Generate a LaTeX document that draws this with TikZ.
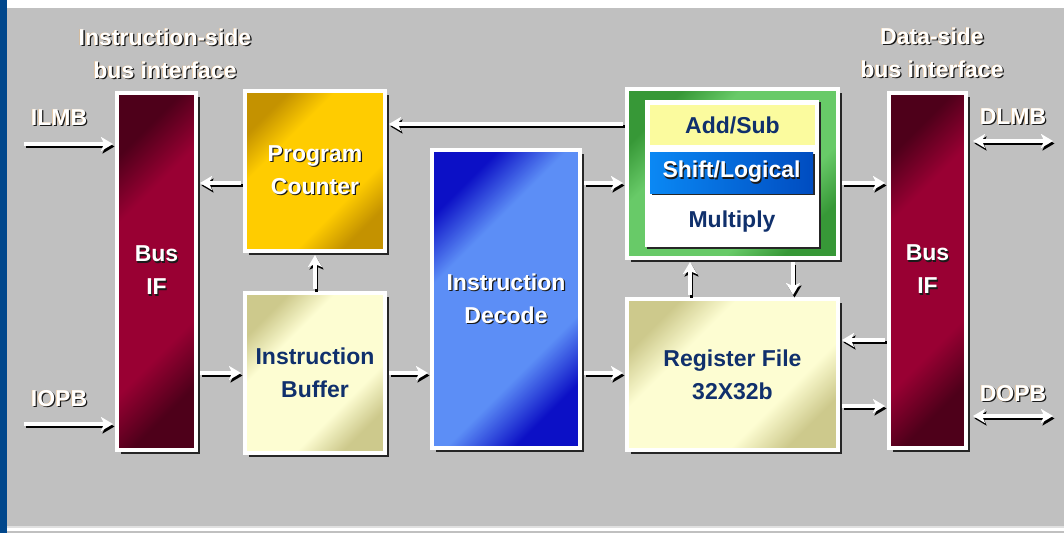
\documentclass[tikz,border=0pt]{standalone}
\usepackage{fontspec}
\setmainfont{Liberation Sans}
\usetikzlibrary{arrows.meta,calc,shadows}

\definecolor{bggray}{HTML}{C0C0C0}
\definecolor{barblue}{HTML}{00478C}
\definecolor{navy}{HTML}{10306C}
\definecolor{txtshadow}{HTML}{1A1A1A}
\definecolor{glow}{HTML}{E8B880}
\definecolor{busdark}{HTML}{4E001A}
\definecolor{busmid}{HTML}{990033}
\definecolor{pcdark}{HTML}{C49200}
\definecolor{pcmid}{HTML}{FFCC00}
\definecolor{buffdark}{HTML}{CDC98C}
\definecolor{buffmid}{HTML}{FDFDD2}
\definecolor{decdark}{HTML}{0C10C6}
\definecolor{decmid}{HTML}{5C8EF6}
\definecolor{aludark}{HTML}{379837}
\definecolor{alumid}{HTML}{68CA68}
\definecolor{addyellow}{HTML}{FBFB9E}
\definecolor{shiftA}{HTML}{0A88F4}
\definecolor{shiftB}{HTML}{004CC0}

% corner shadings: dark at two opposite corners, bright in between
\newcommand\makeshade[3]{\pgfdeclareverticalshading{#1}{100bp}{color(0bp)=(#2); color(25bp)=(#2); color(36bp)=(#3); color(64bp)=(#3); color(75bp)=(#2); color(100bp)=(#2)}}
\makeshade{busshade}{busdark}{busmid}
\makeshade{pcshade}{pcdark}{pcmid}
\makeshade{buffshade}{buffdark}{buffmid}
\makeshade{decshade}{decdark}{decmid}
\makeshade{alushade}{aludark}{alumid}

% text with a dark drop shadow
\newcommand\shtxt[1]{\leavevmode\rlap{\kern1.2pt\raisebox{-1.2pt}{\color{txtshadow}#1}}#1}
% label text: dark shadow plus a warm fringe
\newcommand\lbltxt[1]{\leavevmode\rlap{\kern1.3pt\raisebox{-1.3pt}{\color{txtshadow}#1}}\rlap{\kern-0.5pt\color{glow}#1}#1}
\newcommand\boxfont{\bfseries\fontsize{23}{33}\selectfont}

\tikzset{
  box/.style={draw=white, line width=4pt, inner sep=0pt, align=center,
    text=white, font=\boxfont, shading angle=45,
    drop shadow={shadow xshift=4pt, shadow yshift=-4pt, fill=black!85, opacity=1}},
  inbox/.style={inner sep=0pt, align=center, font=\boxfont,
    drop shadow={shadow xshift=2pt, shadow yshift=-2pt, fill=black!85, opacity=1}},
  lbl/.style={inner sep=0pt, align=center, text=white, font=\boxfont},
  tip/.style={-{Stealth[length=12pt,width=14pt,inset=3pt]}},
  tiptwo/.style={{Stealth[length=12pt,width=14pt,inset=3pt]}-{Stealth[length=12pt,width=14pt,inset=3pt]}},
  flow/.style={draw=white, line width=3.5pt, shorten <=2pt, shorten >=2pt, tip},
  flowtwo/.style={draw=white, line width=3.5pt, shorten <=5pt, tiptwo},
  flowshade/.style={draw=black, line width=3.5pt}
}

% a connector with its dark drop shadow
\newcommand\flowarrow[3][flow]{%
  \draw[#1, flowshade] ($#2+(1.5pt,-2.5pt)$) -- ($#3+(1.5pt,-2.5pt)$);
  \draw[#1] #2 -- #3;}

\begin{document}
\begin{tikzpicture}[x=1pt, y=-1pt]

  % --- frame and background ---
  \useasboundingbox (0,0) rectangle (1064,533);
  \fill[white] (0,0) rectangle (1064,533);
  \fill[bggray] (7,8) rectangle (1064,526);
  \fill[black!12] (7,526) rectangle (1064,527.5);
  \fill[bggray] (7,531) rectangle (1064,533);
  \fill[barblue] (0,0) rectangle (7,533);

  % --- instruction side ---
  \node[box, shading=busshade, minimum width=79, minimum height=357] (busL) at (156.5,271) {\shtxt{Bus}\\\shtxt{IF}};
  \node[box, shading=pcshade, minimum width=140, minimum height=160] (pc) at (315,171) {\shtxt{Program}\\\shtxt{Counter}};
  \node[box, shading=buffshade, text=navy, minimum width=140, minimum height=160] (ibuf) at (315,373) {Instruction\\Buffer};
  \node[box, shading=decshade, minimum width=148, minimum height=298] (idec) at (506,299) {\shtxt{Instruction}\\\shtxt{Decode}};

  % --- execution units ---
  \node[box, shading=alushade, minimum width=211, minimum height=169] (alu) at (732.5,173.5) {};
  \node[inbox, fill=white, minimum width=174, minimum height=147] (aluIn) at (732,173.5) {};
  \node[inner sep=0pt, fill=addyellow, text=navy, font=\boxfont, minimum width=165, minimum height=40] (addsub) at (732.5,125) {Add/Sub};
  \node[inbox, left color=shiftA, right color=shiftB, text=white, minimum width=163, minimum height=41] (shift) at (731.5,172.5) {\shtxt{Shift/Logical}};
  \node[inner sep=0pt, text=navy, font=\boxfont] (mult) at (732,222) {Multiply};
  \node[box, shading=buffshade, text=navy, minimum width=211, minimum height=151] (regf) at (732.5,374.5) {Register File\\32X32b};

  % --- data side ---
  \node[box, shading=busshade, minimum width=77, minimum height=355] (busR) at (927.5,270) {\shtxt{Bus}\\\shtxt{IF}};

  % --- labels ---
  \node[lbl] (isLbl) at (165,54) {\lbltxt{Instruction-side}\\\lbltxt{bus interface}};
  \node[lbl] (dsLbl) at (932,53) {\lbltxt{Data-side}\\\lbltxt{bus interface}};
  \node[lbl] (ilmb) at (59,118) {\lbltxt{ILMB}};
  \node[lbl] (iopb) at (59,399) {\lbltxt{IOPB}};
  \node[lbl] (dlmb) at (1013,117) {\lbltxt{DLMB}};
  \node[lbl] (dopb) at (1013,394) {\lbltxt{DOPB}};

  % --- rows and columns of the connectors ---
  \coordinate (ilmbIn) at (22,144);
  \coordinate (iopbIn) at (22,424);
  \coordinate (dlmbOut) at (1053,141);
  \coordinate (dopbOut) at (1053,416);
  \coordinate (rowTop) at (0,124);
  \coordinate (rowA) at (0,183);
  \coordinate (rowB) at (0,373);
  \coordinate (rowC) at (0,340);
  \coordinate (rowD) at (0,406);
  \coordinate (colUp) at (690,0);
  \coordinate (colDown) at (793,0);

  % --- connectors ---
  \flowarrow{(ilmbIn)}{(ilmbIn -| busL.west)}
  \flowarrow{(iopbIn)}{(iopbIn -| busL.west)}
  \flowarrow{(pc.west |- rowA)}{(busL.east |- rowA)}
  \flowarrow{(busL.east |- rowB)}{(ibuf.west |- rowB)}
  \flowarrow{(ibuf.north)}{(pc.south)}
  \flowarrow{(ibuf.east |- rowB)}{(idec.west |- rowB)}
  \flowarrow{(alu.west |- rowTop)}{(pc.east |- rowTop)}
  \flowarrow{(idec.east |- rowA)}{(alu.west |- rowA)}
  \flowarrow{(idec.east |- rowB)}{(regf.west |- rowB)}
  \flowarrow{(regf.north -| colUp)}{(alu.south -| colUp)}
  \flowarrow{(alu.south -| colDown)}{(regf.north -| colDown)}
  \flowarrow{(alu.east |- rowA)}{(busR.west |- rowA)}
  \flowarrow{(busR.west |- rowC)}{(regf.east |- rowC)}
  \flowarrow{(regf.east |- rowD)}{(busR.west |- rowD)}
  \flowarrow[flowtwo]{(busR.east |- dlmbOut)}{(dlmbOut)}
  \flowarrow[flowtwo]{(busR.east |- dopbOut)}{(dopbOut)}

\end{tikzpicture}
\end{document}
